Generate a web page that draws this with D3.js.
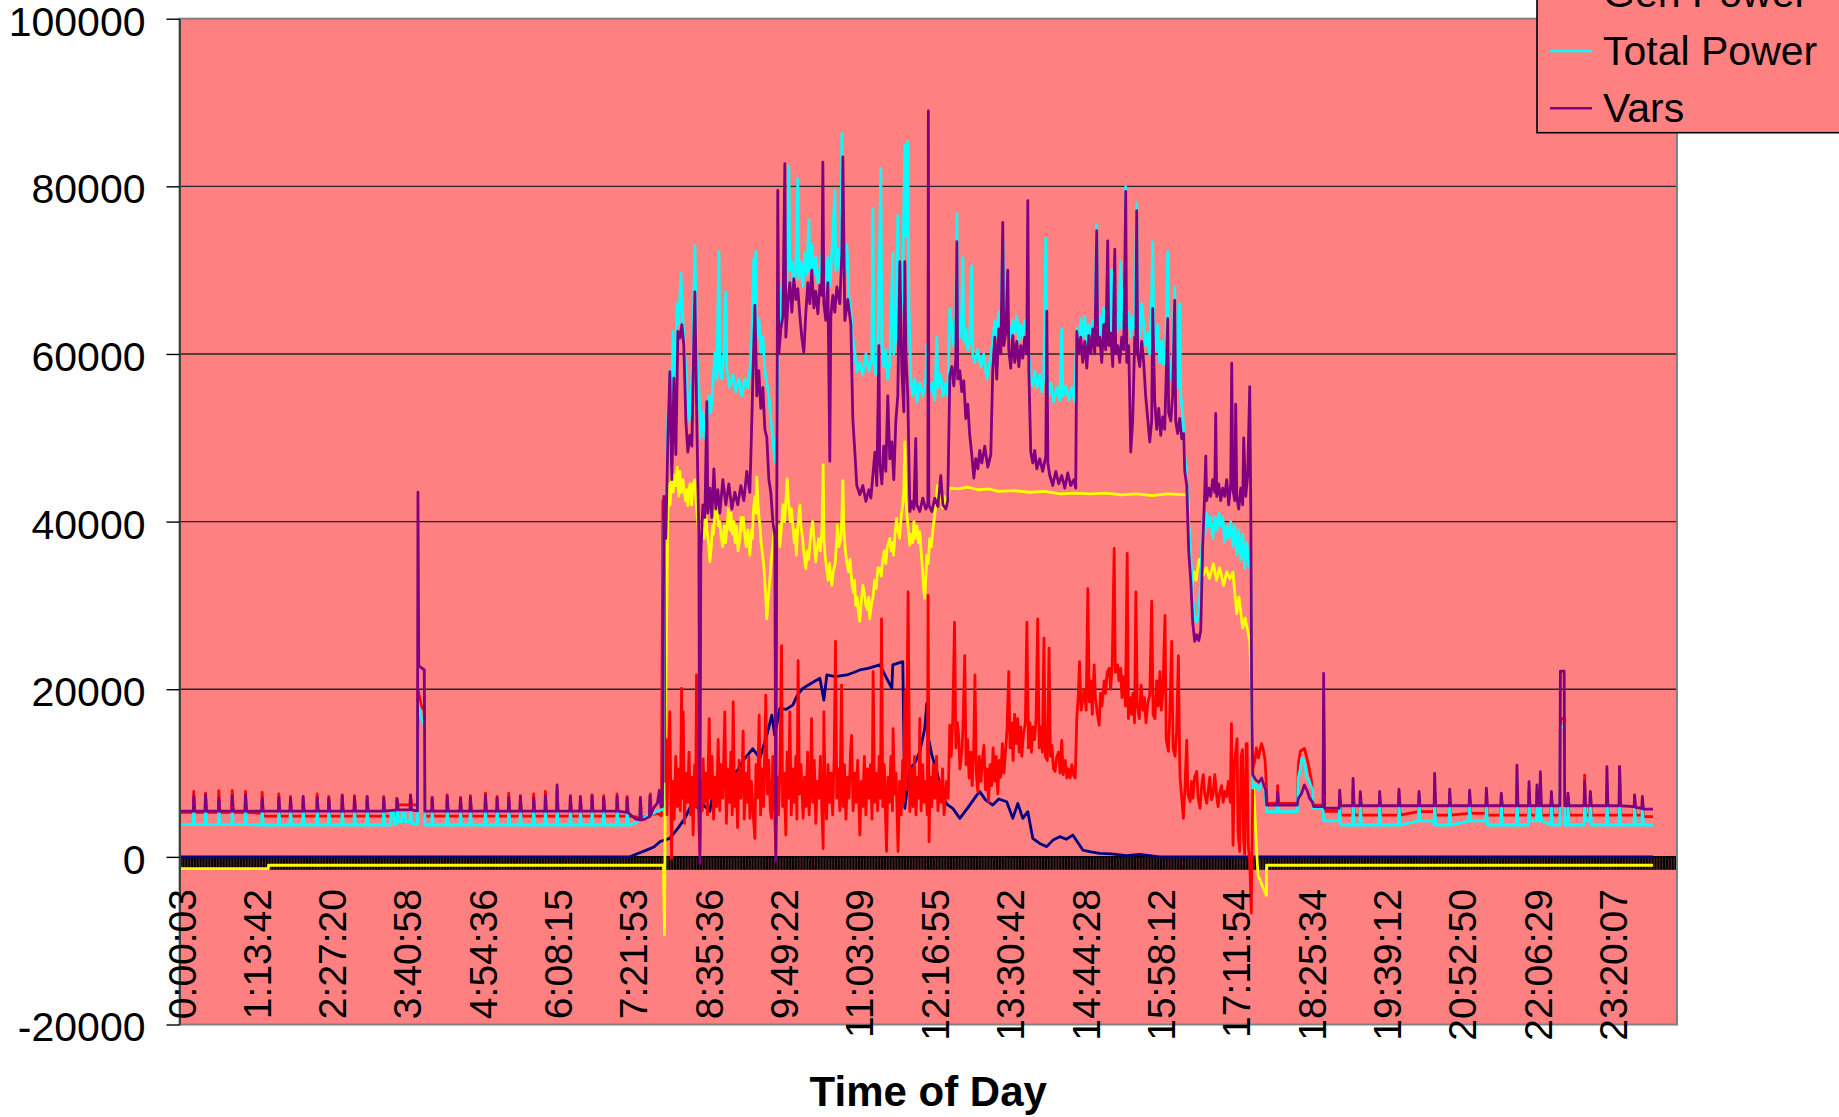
<!DOCTYPE html>
<html><head><meta charset="utf-8">
<script src="https://cdn.jsdelivr.net/npm/d3@7"></script>
<style>
html,body{margin:0;padding:0;background:#fff;}
svg text{font-family:"Liberation Sans",Arial,sans-serif;}
</style></head><body>
<svg id="chart" width="1839" height="1117"></svg>
<script>
// ---------------- DATA (time in minutes since midnight, value) ----------------
const timeLabels = ["0:00:03","1:13:42","2:27:20","3:40:58","4:54:36","6:08:15","7:21:53","8:35:36","9:49:22","11:03:09","12:16:55","13:30:42","14:44:28","15:58:12","17:11:54","18:25:34","19:39:12","20:52:50","22:06:29","23:20:07"];
const yTicks = [-20000,0,20000,40000,60000,80000,100000];
const seriesNames = ["Gen Power","Total Power","Vars"];

const pvPower = [[0,0],[439,0],[447,400],[455.4,810],[463,1200],[468.5,1810],[478.2,2200],[486,3400],[492.9,4590],[500.7,6600],[505,5900],[510,6300],[517.4,5430],[519.3,6980],[526,8200],[534,9760],[543.8,10200],[550,11500],[559.4,12900],[566.3,11750],[573.1,14530],[578,16900],[580.9,14500],[585.8,17700],[592,17600],[598.5,18100],[603,19300],[608.3,20100],[615,20600],[625,21300],[628.9,18700],[631.8,21700],[640,21500],[651.4,21700],[658,22000],[664.1,22300],[672,22500],[683.6,22900],[695.4,20100],[696.3,22900],[706.1,23300],[708.1,5800],[713,10560],[718,11200],[722.7,12550],[727.6,15330],[729.6,18300],[730.6,14530],[734.5,12150],[739.4,10170],[745.2,6980],[750,6200],[755,5790],[761.9,4590],[770,5900],[778.5,7370],[781.4,7780],[787,6800],[794.1,6180],[800,6900],[807.8,6580],[813.7,4590],[818.6,6380],[823.5,4590],[828.4,5390],[833.3,2200],[840,1600],[846.9,1220],[853,2000],[859.7,2410],[866,2100],[872.4,2600],[882.2,810],[890,600],[898.8,420],[910,350],[925.2,140],[937.9,300],[957.5,0],[1440,0]];

const loadPower = [[0,-1400],[85.5,-1400],[85.6,-1000],[472,-1000],[473,-9300],[474.3,20000],
[476.3,41000],[477.5,44500],[478.5,42000],[480.2,46300],[481.5,43500],[482.8,45500],[484.1,44300],[485.5,46500],[487,43000],[488,46000],[489.5,43500],[491,45000],[492,44000],[493.5,42500],[494.9,43800],[495.8,41900],[497,44000],[498,44500],[499.5,42000],[501,44500],[502.7,45000],[504,42000],[505.6,40000],[506.5,38500],[507.6,36400],[509,38500],[510.5,40000],[511.8,38000],[513,42000],[514.5,39000],[516,37500],[517.4,35200],[518.8,37000],[520,39500],[521,38500],[522.5,41500],[524,42500],[525.5,39500],[527,40000],[528.5,38000],[530,37000],[531.5,39500],[532.8,37500],[534,39200],[535.5,41500],[537,39000],[538,41000],[539.5,38500],[541,40000],[542,37500],[543.5,39500],[545,36500],[546.7,38000],[548,40500],[549,39000],[550,40500],[551.5,38500],[553,37000],[554.5,39000],[555.5,37500],[556.5,36000],[558,39000],[559,38000],[560,41500],[561.5,43000],[562.5,41000],[563.3,45300],[564.5,42000],[565.5,40500],[566.3,39600],[567.5,37500],[569,36000],[570.3,34500],[571.5,32000],[572.3,30500],[573.1,28400],[574.5,31000],[576,33000],[577.5,35500],[579,37400],[580.5,39500],[582,40000],[583.5,38000],[585,39500],[585.8,37000],[587.5,39500],[589,42000],[590.5,40000],[592,43000],[593,45100],[594.5,42000],[596,40000],[597.3,41500],[598.5,39600],[600,37500],[601,39000],[602,36000],[603.5,39500],[605.4,42000],[606.5,39500],[608,38000],[609.5,36000],[611.3,34400],[612.5,36500],[614,35500],[615.2,37200],[616.5,39000],[618,40000],[619.5,37500],[621,35200],[622.5,37000],[624,38000],[625.5,36500],[627,39000],[628.2,46800],[629,38000],[630,36000],[631.5,34500],[633,33000],[634.5,35000],[635.5,33500],[636.7,32400],[638,34000],[640,35000],[641,37000],[642,39600],[643.5,37000],[645.5,38000],[646.5,40500],[647.5,44900],[648.5,39000],[650,36400],[651.5,35000],[653,34000],[654.5,35500],[656.5,32400],[658,31500],[659,33000],[660,30000],[661.5,31000],[662.8,29000],[664,28100],[665.5,30500],[667,32400],[668.5,31500],[670,30000],[671.5,29500],[672.8,31000],[673.8,28400],[675.3,30000],[677,31000],[678.5,33000],[680,32000],[681.8,34500],[683.6,34400],[685,33500],[686.5,35500],[688,36500],[689.5,35000],[691,37000],[693.4,38000],[694.8,36500],[696,37500],[697,36000],[698.5,38500],[700,40400],[701.5,39000],[703,38000],[704.5,40500],[706,42000],[707.2,44000],[708.1,49500],[709,43000],[710,41000],[711.5,39000],[713,37200],[714.5,38500],[716,37500],[717,40000],[718.5,38000],[720,39500],[721.5,37500],[722.7,38800],[724,36500],[725.5,34000],[726.5,32000],[727.6,30800],[728.5,33000],[729.6,36000],[731,35000],[732.5,38000],[734,37000],[735.5,39000],[737,40400],[738.5,42000],[740,44300],[741.5,42500],[743,43500],[745,41600],[746.5,43000],[748,41800],[750,42500],[751,43500],[752.1,44000],
[760,43900],[770,44100],[780,43800],[790,43900],[800,43600],[815,43700],[830,43500],[845,43600],[860,43300],[875,43400],[890,43300],[905,43400],[920,43200],[935,43300],[950,43100],[965,43300],[984.8,43200],[987,36000],[989,32400],[991,34000],[993,33000],[996,35500],[1000,33600],[1003,34500],[1006,33200],[1010,35000],[1013,33000],[1016,34500],[1020,32400],[1023,34000],[1026,33200],[1029,34000],[1032.8,29000],[1035,31000],[1038.6,27300],[1041,28500],[1045.5,25700],[1047.1,20500],[1049,9000],[1052,1400],[1053.6,-2200],[1058,-3500],[1061.8,-4600],[1062,-1000],[1440,-1000]];

const genPower = [[0,5300],
[12,5300],[12.5,7800],[13.5,5300],[23.5,5300],[24,7600],[25,5300],[36.5,5300],[37,7900],[38,5300],[49.6,5300],[50.1,7900],[51.1,5300],[62.6,5300],[63.1,7800],[64.1,5300],
[78.9,5200],[79.4,7700],[80.4,4850],[95.2,4850],[95.7,7500],[96.7,4850],[106.6,4850],[107.1,7200],[108.1,4850],[119,4850],[119.5,7000],[120.5,4850],[132.7,4850],[133.2,7500],[134.2,4850],[144.1,4850],[144.6,7200],[145.6,4850],[157.2,4850],[157.7,7400],[158.7,4850],[169.2,4850],[169.7,7300],[170.7,4850],[181.6,4850],[182.1,7100],[183.1,4850],[197.8,4850],[198.3,7200],[199.3,4850],
[210.5,4850],[211,7000],[212,6200],[224,6200],[224.5,7300],[225.5,6200],[231.3,6200],[231.8,20000],[235,18000],[238,17500],[238.6,4850],
[245.2,4850],[245.7,7000],[246.7,4850],[259.9,4850],[260.4,7400],[261.4,4850],[272.9,4850],[273.4,7100],[274.4,4850],[282.6,4850],[283.1,7300],[284.1,4850],[297.3,4850],[297.8,7600],[298.8,4850],[308.7,4850],[309.2,7200],[310.2,4850],[320.1,4850],[320.6,7600],[321.6,4850],[331.5,4850],[332,7300],[333,4850],[344.5,4850],[345,7500],[346,4850],[356,4850],[356.5,7800],[357.5,4850],[367.4,4850],[367.9,7900],[368.9,4850],[380.4,4850],[380.9,7200],[381.9,4850],[390.2,4850],[390.7,7000],[391.7,4850],[401.6,4850],[402.1,7400],[403.1,4850],[413,4850],[413.5,7300],[414.5,4850],[426.1,4850],[426.6,7500],[427.6,4850],[435.9,4850],[436.4,7200],[437.4,4850],[448.9,4700],[449.4,7000],[450.4,4700],[458.7,4800],[459.2,7500],[460.2,5000],[466,5200],[470,4900],
[471.4,42500],[472.5,41000],[473.5,9000],[474.5,14000],[475.5,5000],[476.5,11000],[478.2,17300],[479.9,-200],[481,9000],[482.5,4500],[484,12000],[485.5,6000],[487,10500],[488.5,5500],[489.7,20100],[490.5,7000],[491.3,17300],[492.5,4000],[494,10000],[495.5,6500],[497,12500],[498.5,5000],[500,9500],[501,2600],[502.5,11000],[503.5,6000],[504.3,21700],[505.5,8000],[506.5,4500],[507.6,650],[508.8,9000],[510,5500],[510.8,11700],[512,6500],[513.5,10000],[515,5000],[516.7,16500],[518,7000],[519.5,12000],[521,4500],[522.5,9500],[524,6000],[525.5,14000],[527,5500],[528.5,11000],[530,7000],[532,17300],[533.5,4000],[535,10500],[536.5,6500],[538,12500],[539.2,5000],[540.2,18500],[541.5,6000],[543,10000],[544.5,3500],[546,11500],[547.5,7000],[549,9500],[549.9,15000],[551,4500],[552.5,10000],[554,6500],[555.5,12000],[556.5,4600],[558,9000],[559.5,5500],[561.4,2200],[562.5,11000],[564,7000],[565.6,16900],[567,5000],[568.5,10500],[570,6000],[572.1,19300],[573.5,7500],[575,11500],[576.5,5500],[577.7,4600],[579,12000],[580.5,6500],[581.9,650],[583,9500],[584.5,5000],[586,11000],[587.5,25200],[588.5,6000],[590,10000],[591.7,2600],[593,12500],[594.5,7000],[595.6,17300],[597,5000],[598.5,10500],[600,6500],[601.5,12000],[602.5,4500],[603.7,23400],[605,7500],[606.5,11000],[608.6,4600],[610,9500],[611.5,6000],[613,12500],[614.5,5000],[616,10000],[616.8,16500],[618,6500],[619.5,11500],[621,4000],[622.5,9000],[624,7000],[625.5,12000],[627,5500],[628.2,1000],[628.9,17300],[630,8000],[631.5,4500],[633,11000],[634.5,6500],[636,10000],[637.5,5000],[639,12000],[640.3,25700],[641.5,7000],[643,10500],[644.5,5500],[646.2,20500],[647.5,6000],[649,11000],[650.5,4500],[652,9500],[653.5,7000],[655,12500],[656,14500],[657.5,5500],[659,10000],[660.5,6500],[662,11500],[664.1,2600],[665.5,9000],[667,6000],[668.5,12000],[670,5000],[671.5,10500],[673,7000],[674.5,11000],[676,4500],[677.1,22100],[678.5,6500],[680,10000],[681.5,5500],[683,12000],[684.3,7000],[685.3,28400],[686.5,6000],[688,11000],[689.2,5000],[690.2,650],[691.5,9500],[693,6500],[694.5,12000],[696,5500],[696.6,15300],[698,7500],[699.5,10000],[701.5,650],[703,9000],[704.5,5000],[706,11500],[707,6500],[708.1,19700],[709.5,8000],[711.3,31600],[713,5400],[714.5,10500],[716,6000],[717.5,12000],[719,5000],[720.5,9500],[722,7000],[722.7,16500],[724,5500],[725.5,11000],[727,6500],[728.5,9000],[730,5000],[730.9,31200],[731.8,1800],[733,9500],[734.5,6000],[736,11000],[737.5,7000],[739.1,12000],[740.5,5500],[742,9000],[743.5,6500],[745,10500],[746.5,5000],[748.9,9000],[750.5,7000],[752.1,15700],
[753.5,12000],[755,16500],[756.7,28000],[758,13000],[759.5,16000],[760.7,14500],[762,10500],[763.9,12600],[765,15500],[766.7,24000],[768,11000],[769.5,14000],[771,9400],[772.5,12500],[774,8500],[775.5,13000],[776.7,21700],[778,10000],[779.5,7800],[781,12000],[782.5,9000],[784,11500],[785.5,13300],[787,8000],[788.5,10500],[790,6600],[791.5,11000],[793,8500],[794.5,13000],[796,9000],[797.5,12000],[799,7500],[800.5,11500],[802,9500],[803.5,13500],[805,10000],[806.5,12500],[808,15000],[809.8,22100],[811,13000],[812.5,16000],[814,11500],[815.5,17000],[817,13500],[818.5,16500],[820,12500],[821.5,15500],[822.5,12000],[824,14500],[826,16000],[827.5,28000],[829,13000],[830.5,16000],[832,12500],[833.5,15500],[835,14000],[836.5,16500],[838.1,28400],[839.5,13000],[841,15500],[842.6,12500],[844.2,26100],[845.5,12000],[847.5,11500],[849.2,24900],[850.5,12000],[852,13300],[853.5,10500],[855.1,10200],[856.5,11800],[858.4,12500],[860,10000],[861.6,13900],[863,9800],[865,11500],[866.7,9400],[868,10500],[869.8,9400],[871.5,11000],[873,9800],[874.8,9400],[876.3,16500],[877.7,19000],[879,23300],[880.5,17500],[882.2,18900],[883.5,20000],[885.5,17500],[887.1,32000],[888.5,18500],[890,21000],[891.5,17000],[893.3,22900],[894.5,19000],[896,17500],[898.2,15700],[899.5,19500],[901,18000],[903.1,21000],[904.5,19500],[906,22000],[908,22500],[909.5,20000],[911,23000],[912.9,36800],[914,22000],[916.2,22900],[917.5,21000],[919.3,22500],[920.5,19000],[922,21500],[924,18000],[925.6,36200],[926.8,16500],[928.5,19000],[930,17000],[931.2,19500],[932.8,16000],[934.1,31600],[935.5,18000],[937.5,16500],[939.3,20500],[941,17500],[942.5,19000],[944,16000],[946,18500],[947.7,19300],[949.6,30500],[951,17000],[952.8,16500],[954.5,21000],[956,18000],[957.7,22100],[959,17500],[960.5,19500],[962.6,28800],[963.8,14000],[965.9,12600],[967,16000],[969.2,25700],[970.5,13000],[972.4,12000],[974,15000],[975.7,24000],[977,11000],[977.4,9400],[979,7000],[980.6,4600],[982,8000],[983.9,13900],[985,7500],[987.2,6600],[988.5,9000],[990,7000],[991.5,9500],[993.6,10200],[995,7000],[996.9,5800],[998.5,8500],[1000.1,9800],[1001.5,7500],[1003.4,6400],[1005,8000],[1006.4,9500],[1008,6800],[1009.7,7500],[1011.3,9800],[1013,7500],[1014.5,6000],[1016.2,7700],[1018,8500],[1019.5,6500],[1021,7800],[1022.8,7200],[1024.5,9000],[1026.5,6500],[1027.6,15900],[1029.2,1400],[1030.5,11000],[1033.1,14100],[1034,3000],[1035.7,650],[1037,12000],[1038.4,12800],[1039.5,2000],[1040.6,300],[1042,13500],[1042.9,13500],[1044,1500],[1045.5,-500],[1047,-6700],[1048.7,10600],[1050.5,11500],[1052,13000],[1054,11800],[1055.3,12600],[1057,13500],[1058.6,12900],[1060.5,11500],[1061.2,10000],[1062.5,6400],
[1072.3,6380],[1072.8,8500],[1073.8,6380],[1092,6380],[1093,11000],[1095,12600],[1099,12940],[1101,12000],[1103,10950],[1106,9000],[1107.5,6180],[1117.3,6180],[1117.8,17700],[1118.8,5430],[1133,5430],[1133.5,7500],[1134.5,4990],
[1146.1,4990],[1146.6,8000],[1147.6,4990],[1153.2,4990],[1153.7,7500],[1154.7,4990],[1172.1,4990],[1172.6,7400],[1173.6,4990],[1191,4990],[1191.5,7500],[1192.5,4990],[1210.6,5390],[1211.1,7400],[1212.1,5390],[1225.9,5390],[1226.4,8000],[1227.4,4990],[1240.6,4990],[1241.1,7500],[1242.1,4990],[1260.1,5200],[1260.6,7600],[1261.6,5200],[1276.5,5200],[1277,7700],[1278,4990],[1291.1,4990],[1291.6,7300],[1292.6,4990],[1306.4,4990],[1306.9,8500],[1307.9,4990],[1318.2,4990],[1318.7,8000],[1319.7,4990],[1326,4990],[1326.5,7800],[1327.5,4990],[1329.3,4990],[1329.8,8200],[1330.8,4990],[1340.1,4990],[1340.6,7300],[1341.6,4990],[1348.9,4990],[1349.4,16500],[1353.1,16500],[1353.6,4990],[1356.3,4990],[1356.8,7200],[1357.8,4990],[1372.6,4990],[1373.1,9760],[1374.1,4990],[1378.2,4990],[1378.7,7600],[1379.7,4990],[1394.4,4990],[1394.9,8500],[1395.9,4990],[1406.8,4990],[1407.3,10760],[1408.3,4990],[1421.5,4990],[1422,7100],[1423,4990],[1429.1,4990],[1429.6,6900],[1430.6,4800],[1440,4800]];

const totalPower = [[0,3850],
[12,3850],[12.5,6000],[13.5,3850],[23.5,3850],[24,6600],[25,3850],[36.5,3850],[37,6200],[38,3850],[49.6,3850],[50.1,5800],[51.1,3850],[62.6,3850],[63.1,6000],[64.1,3850],
[78.9,3800],[79.4,6300],[80.4,3800],[95.2,3800],[95.7,6100],[96.7,3800],[106.6,3800],[107.1,6500],[108.1,3800],[119,3800],[119.5,6000],[120.5,3800],[132.7,3800],[133.2,6600],[134.2,3800],[144.1,3800],[144.6,6200],[145.6,3800],[157.2,3800],[157.7,6000],[158.7,3800],[169.2,3800],[169.7,6400],[170.7,3800],[181.6,3800],[182.1,6300],[183.1,3800],[197.8,3800],[198.3,6500],[199.3,3800],
[205,3800],[205.5,5400],[208,5400],[208.5,3900],[211,3900],[211.5,6200],[212.5,4200],[216,4200],[216.5,5400],[219,5400],[219.5,4200],[224,4200],[224.5,6000],[225.5,4000],[231.3,3900],[231.8,18500],[235,16500],[238,15800],[238.6,3800],
[245.2,3800],[245.7,5900],[246.7,3800],[259.9,3800],[260.4,6200],[261.4,3800],[272.9,3800],[273.4,6000],[274.4,3800],[282.6,3800],[283.1,6300],[284.1,3800],[297.3,3800],[297.8,6100],[298.8,3800],[308.7,3800],[309.2,6400],[310.2,3800],[320.1,3800],[320.6,6200],[321.6,3800],[331.5,3800],[332,6000],[333,3800],[344.5,3800],[345,6300],[346,3800],[356,3800],[356.5,6800],[357.5,3800],[367.4,3800],[367.9,6500],[368.9,3800],[380.4,3800],[380.9,6200],[381.9,3800],[390.2,3800],[390.7,6000],[391.7,3800],[401.6,3800],[402.1,6300],[403.1,3800],[413,3800],[413.5,6100],[414.5,3800],[426.1,3800],[426.6,6400],[427.6,3800],[435.9,3800],[436.4,6200],[437.4,3800],
[442,3900],[448.9,4400],[449.4,6000],[450.4,4500],[455,4800],[458.7,5000],[459.2,6300],[460.2,5000],[465,5400],[470,5600],[471.4,5600],
[472.4,40000],[474.3,42000],[476.3,52000],[478.2,58000],[480.2,50000],[481.2,62700],[483.1,55000],[485.1,66000],[487,63500],[489,69600],[491,64000],[492.9,60000],[494.9,56200],[496.8,52000],[498.8,54500],[500.7,60000],[502.7,72900],[504.6,60000],[506.6,56000],[508.5,50000],[510.5,53100],[512.5,49900],[514.4,52000],[516.4,55000],[518.3,53000],[520.3,56200],[522.3,60200],[524.2,57000],[526.2,72200],[527.1,58000],[529.1,57000],[531.1,60000],[533,67400],[534,58000],[536.9,56000],[539.9,57500],[542.8,55500],[545.7,57000],[548.7,55000],[551.6,57000],[554.5,56000],[556.5,58000],[558.4,62000],[560.4,71400],[561.4,64000],[562.3,72200],[563.3,62000],[565.3,64200],[567.2,60200],[569.2,62000],[571.2,58000],[573.1,56500],[575.1,55000],[577,52000],[579,50000],[580.9,47000],[582.9,52000],[584.8,62000],[586.8,66000],[588.8,70000],[590.7,72000],[592.7,68000],[594.6,82400],[595.6,70000],[597.6,71000],[599.5,67500],[601.5,70500],[603.4,80900],[604.4,69000],[606.4,71000],[608.3,68000],[610.3,72000],[612.2,69500],[614.2,76000],[615.2,70000],[617.1,73000],[619.1,69500],[621,71500],[623,68500],[625,70000],[626.9,72000],[628.9,69500],[630.8,67000],[632.8,71500],[634.7,68000],[636.7,72000],[639.6,79500],[640.6,70000],[642.6,72500],[645.5,69000],[646.5,86300],[647.5,72000],[649.4,70000],[651.4,73000],[653.3,67000],[655.3,65000],[657.2,62000],[659.2,60200],[661.1,57900],[664.1,59000],[667,57500],[670,60000],[672.9,58000],[675.9,59500],[676.8,77300],[677.8,59000],[679.7,57500],[681.7,60000],[684.6,82100],[685.6,61000],[687.5,58500],[689.5,60500],[691.4,57000],[693.4,59000],[696.3,72000],[697.3,60000],[699.3,62000],[701.2,76500],[702.2,61000],[704.2,64000],[706.1,70000],[708.1,84900],[709.1,74000],[711,85300],[712,66000],[714,57000],[715.9,55000],[717.9,57000],[719.8,54300],[722.7,56500],[725.7,55000],[728.6,57000],[729.6,61000],[731.6,55500],[734.5,56500],[737.4,54500],[739.4,62000],[740.4,56000],[743.3,57500],[745.3,55000],[748.2,56500],[750.1,55000],[752.1,65400],[754.1,63000],[756,61000],[758,64500],[759,76700],[759.9,63000],[761.9,62000],[763.8,65000],[764.8,71500],[765.8,61500],[767.7,63000],[769.7,60500],[771.6,61500],[773.6,70500],[774.6,60000],[776.5,59000],[779.5,60500],[782.4,58500],[785.3,60000],[788.3,57000],[791.2,59000],[794.1,61500],[796.1,64000],[798,62000],[800,65000],[802,63000],[803.9,74000],[805.9,64000],[807.8,66000],[809.8,63500],[811.7,62000],[813.7,64000],[815.6,62500],[817.6,64500],[819.6,61500],[821.5,63500],[823.5,62000],[825.4,64000],[827.4,62500],[829.4,60000],[831.3,57000],[833.3,56200],[835.2,58000],[837.2,56000],[840.1,57500],[842.1,55500],[844,57000],[846,73800],[847,57000],[848.9,55000],[850.9,56500],[853.8,54300],[856.8,56000],[859.7,54500],[861.6,63000],[862.6,55000],[865.5,56200],[868.5,54500],[871.4,56000],[874.3,54300],[876.3,63000],[878.2,61000],[880.2,64200],[882.1,62000],[884.1,64500],[886.1,61000],[888,63500],[890,61500],[891.9,64000],[893.9,62000],[895.8,75400],[896.8,63000],[898.8,64500],[900.7,61500],[902.7,65500],[904.6,62000],[906.6,64000],[908.6,61000],[910.5,70000],[911.5,63000],[913.5,65000],[915.4,62500],[917.4,64000],[919.3,71000],[920.3,63000],[922.2,65000],[924.2,80000],[925.2,63000],[927.1,65000],[929.1,62000],[931,64500],[933,63000],[934.9,78000],[935.9,64000],[937.9,62000],[939.8,66000],[941.8,63500],[943.7,61000],[945.7,62500],[947.7,60000],[949.6,67000],[950.6,73400],[951.6,62000],[953.5,60500],[955.5,63400],[957.5,59000],[959.4,61500],[961.4,58700],[963.3,60500],[965.3,72200],[966.2,60000],[968.2,57000],[970.1,59000],[972.1,68000],[973.1,57500],[975,56000],[977,66000],[978,55000],[979.9,53000],[981.9,48000],[983.9,45000],[985.8,40000],[987.8,36000],[989.7,31000],[991.7,28500],[993.6,28000],[995.6,29000],[997.6,33000],[999.5,40000],[1001.5,38500],[1003.4,41000],[1005.4,39500],[1007.3,40500],[1009.3,38000],[1011.3,40500],[1013.2,39000],[1015.2,41000],[1017.1,39500],[1019.1,40500],[1021,37500],[1023,39500],[1024.9,38000],[1026.9,40000],[1028.9,37000],[1030.8,39500],[1032.8,36000],[1034.7,39000],[1036.7,35500],[1038.6,38500],[1040.6,34400],[1042.5,37500],[1044.5,35000],[1046.5,34000],[1047.4,20000],[1048.4,8200],[1051.3,8600],[1054.3,8000],[1057.2,8800],[1060.2,8400],[1062.1,5390],
[1072.3,5390],[1072.8,7000],[1073.8,5390],[1092,5390],[1093,9370],[1095,10500],[1096.5,11750],[1099,11500],[1101,9400],[1103,9370],[1105,8570],[1107,8000],[1107.5,5790],[1117,5790],[1118,4300],[1133,4300],[1133.5,6780],[1134.5,3800],
[1146.1,3800],[1146.6,7000],[1147.6,3800],[1153.2,3800],[1153.7,7200],[1154.7,3800],[1172.1,3800],[1172.6,6700],[1173.6,3800],[1191,3800],[1191.5,6700],[1192.5,3800],[1210.6,4300],[1211.1,7200],[1212.1,4300],[1225,4300],[1225.9,3800],[1226.4,7200],[1227.4,3800],[1240.6,3800],[1241.1,7000],[1242.1,3800],[1260.1,4300],[1260.6,6800],[1261.6,4300],[1276.5,4300],[1277,7000],[1278,3800],[1291.1,3800],[1291.6,6700],[1292.6,3800],[1306.4,3800],[1306.9,9000],[1307.9,3800],[1318.2,3800],[1318.7,7200],[1319.7,4300],[1326,4300],[1326.5,7200],[1327.5,4300],[1329.3,4300],[1329.8,6800],[1330.8,4300],[1340.1,3800],[1340.6,6300],[1341.6,3800],[1348.9,3800],[1349.4,15530],[1353.1,15530],[1353.6,3800],[1356.3,3800],[1356.8,6500],[1357.8,3800],[1372.6,3800],[1373.1,8000],[1374.1,4300],[1378.2,4300],[1378.7,6800],[1379.7,3800],[1394.4,3800],[1394.9,8200],[1395.9,3800],[1406.8,3800],[1407.3,8500],[1408.3,3800],[1421.5,3800],[1422,6500],[1423,3800],[1429.1,3800],[1429.6,6300],[1430.6,3800],[1440,3800]];

const vars = [[0,5450],
[12,5450],[12.5,7200],[13.5,5450],[23.5,5450],[24,7400],[25,5450],[36.5,5450],[37,7000],[38,5450],[49.6,5450],[50.1,7300],[51.1,5450],[62.6,5450],[63.1,7400],[64.1,5450],[78.9,5450],[79.4,7000],[80.4,5450],[95.2,5450],[95.7,7100],[96.7,5450],[106.6,5450],[107.1,7000],[108.1,5450],[119,5450],[119.5,7200],[120.5,5450],[132.7,5450],[133.2,7100],[134.2,5450],[144.1,5450],[144.6,7000],[145.6,5450],[157.2,5450],[157.7,7300],[158.7,5450],[169.2,5450],[169.7,7100],[170.7,5450],[181.6,5450],[182.1,7200],[183.1,5450],[197.8,5450],[198.3,7000],[199.3,5450],[211,5600],[211.5,6900],[212.5,5600],[224,5600],[224.5,7400],[225.5,5600],
[231.3,5500],[231.8,43500],[232.6,22800],[238,22300],[238.6,5450],
[245.2,5450],[245.7,7100],[246.7,5450],[259.9,5450],[260.4,7200],[261.4,5450],[272.9,5450],[273.4,7000],[274.4,5450],[282.6,5450],[283.1,7100],[284.1,5450],[297.3,5450],[297.8,7300],[298.8,5450],[308.7,5450],[309.2,7000],[310.2,5450],[320.1,5450],[320.6,7100],[321.6,5450],[331.5,5450],[332,7200],[333,5450],[344.5,5450],[345,7000],[346,5450],[356,5450],[356.5,7300],[357.5,5450],[367.4,5450],[367.9,8600],[368.9,5450],[380.4,5450],[380.9,7300],[381.9,5450],[390.2,5450],[390.7,7200],[391.7,5450],[401.6,5450],[402.1,7300],[403.1,5450],[413,5450],[413.5,7100],[414.5,5450],[426.1,5450],[426.6,7200],[427.6,5450],[435.9,5300],[436.4,7000],[437.4,5300],
[440,5000],[445,4500],[448.9,4400],[449.4,7100],[450.4,4400],[454,4500],[458.2,4800],[458.7,7300],[459.7,5000],[462,5800],[466,6400],[468,7970],[469.5,6000],[471,6000],
[472.4,43000],[474.3,38000],[476.3,50000],[478.2,57900],[480.2,45000],[482.2,57100],[484.1,48000],[486.1,62700],[488,61900],[490,63500],[491.9,61000],[493.9,52000],[495.8,48300],[497.8,50300],[499.8,49000],[501.7,62000],[502.7,67400],[504.6,52000],[506.6,38000],[507.6,-800],[508.5,36000],[510.5,42000],[512.5,40500],[514.4,54300],[515.4,41000],[517.4,44000],[519.3,40500],[521.3,46300],[523.2,41500],[525.2,43800],[527.1,41000],[530.1,45000],[533,42000],[535.9,44500],[538.9,41500],[541.8,43500],[544.7,42000],[547.7,44300],[550.6,42500],[553.5,46000],[556.5,43500],[558.4,52000],[559.4,57000],[561.4,65800],[563.3,55000],[565.3,58000],[567.2,53500],[569.2,56000],[571.2,51000],[573.1,50000],[575.1,45000],[577,43500],[579,40000],[580.9,38300],[581.9,-500],[582.9,45000],[583.8,79500],[584.8,60000],[586.8,63000],[588.8,64500],[590.7,82700],[591.7,62000],[593.6,66000],[595.6,68500],[597.6,65000],[599.5,69000],[601.5,66500],[603.4,67800],[605.4,64500],[607.3,62000],[609.3,60200],[611.3,65000],[613.2,68500],[615.2,66000],[617.1,70000],[619.1,65500],[621,67500],[623,64800],[625,68200],[626.9,67000],[627.9,82900],[628.9,66000],[630.8,64000],[632.8,68500],[634.7,47200],[635.7,64500],[637.7,67000],[639.6,65000],[641.6,68000],[644.5,66000],[646.5,72000],[647.5,83500],[649.4,64000],[652.3,66500],[655.3,63500],[657.2,52300],[659.2,48300],[661.1,44300],[664.1,43200],[667,44300],[670,42400],[672.9,43800],[674.9,42800],[676.8,45500],[678.8,48300],[680.7,44300],[682.7,61000],[683.6,47000],[685.6,44500],[687.5,49000],[689.5,46000],[691.4,55000],[693.4,47500],[695.4,49500],[697.3,45000],[699.3,52000],[701.2,55000],[703.2,71000],[705.2,58000],[707.1,53100],[708.1,71000],[709.1,60000],[711,55000],[713,41200],[714.9,42400],[716.9,41500],[718.8,49900],[719.8,42000],[722.7,41200],[725.7,42800],[728.6,41500],[730.6,42000],[731.1,89000],[731.6,42000],[734.5,41200],[737.4,42800],[740.4,41800],[743.3,45500],[745.3,42000],[748.2,41500],[750.1,42500],[752.1,57400],[754.1,58500],[756,56200],[758,59500],[759,73400],[759.9,57000],[761.9,58000],[763.8,55500],[765.8,56800],[767.7,52300],[769.7,54000],[771.6,50300],[773.6,48000],[775.6,45200],[777.5,47500],[779.5,46300],[781.4,48500],[783.4,47000],[786.3,49000],[789.2,46500],[792.2,48000],[794.1,58000],[796.1,62000],[798,57000],[800,63000],[802,60000],[803.9,75700],[804.9,61000],[806.9,62500],[808.8,70000],[809.8,60500],[811.7,58300],[813.7,62200],[815.6,59000],[817.6,61500],[819.6,58500],[821.5,61000],[823.5,59500],[825.4,62000],[827.4,60000],[828.4,78300],[829.4,58000],[831.3,48300],[833.3,47000],[835.2,48500],[837.2,46300],[840.1,47500],[843,46000],[846,47800],[847,65100],[848,47000],[849.9,45500],[852.8,44300],[855.8,46000],[858.7,44500],[861.6,45500],[864.6,44000],[867.5,45800],[870.4,44300],[873.4,45000],[875.3,44000],[876.3,62700],[878.2,60000],[880.2,62000],[882.1,59000],[884.1,61500],[886.1,58300],[888,62200],[890,60000],[891.9,63000],[893.9,60000],[895.8,74700],[896.8,61000],[898.8,62000],[900.7,59000],[902.7,63500],[904.6,60500],[906.6,73500],[907.6,61000],[909.5,62500],[911.5,58500],[913.5,72500],[914.4,60000],[916.4,61000],[918.3,59000],[920.3,62000],[922.2,60500],[924.2,79400],[925.2,59000],[927.1,61000],[929.1,48300],[931,52000],[933,62000],[934,60000],[934.9,77100],[935.9,60000],[937.9,58500],[939.8,61500],[941.8,59000],[943.7,55000],[945.7,52300],[947.7,49500],[949.6,52000],[950.6,65400],[952.6,54300],[954.5,51000],[956.5,53500],[958.4,50300],[960.4,52500],[962.3,51000],[965.3,64200],[966.2,53000],[968.2,52000],[970.1,55000],[972.1,66400],[973.1,52000],[975,50500],[977,52300],[979,49900],[980.9,50500],[981.9,46000],[983.9,44300],[985.8,36400],[987.8,33000],[989.7,28000],[991.7,25700],[993.6,26500],[995.6,25800],[997.6,27000],[999.5,37200],[1001.5,43600],[1002.5,47800],[1003.4,42500],[1005.4,44000],[1007.3,43000],[1009.3,45000],[1011.3,43500],[1012.2,52900],[1013.2,43000],[1015.2,44500],[1017.1,42500],[1019.1,44000],[1021,43000],[1023,45000],[1024.9,42000],[1026.9,44500],[1027.9,58900],[1028.9,44000],[1030.8,42500],[1031.8,54000],[1032.8,43000],[1034.7,41500],[1036.7,44000],[1038.6,42000],[1039.6,50000],[1041.6,43000],[1043.5,45500],[1045.5,56100],[1046.5,42000],[1047.4,19700],[1048.4,9800],[1051.3,9200],[1054.3,8900],[1057.2,9400],[1059.2,8600],[1061.1,8000],[1062.1,6180],
[1072.3,6180],[1072.8,7700],[1073.8,6180],[1092,6180],[1093,6980],[1096,7500],[1099,8570],[1102,7800],[1104,7000],[1107,6500],[1108,5990],[1117.3,5990],[1117.8,21900],[1118.8,5800],[1133,5800],[1133.5,7970],[1134.5,6100],
[1146.1,6100],[1146.6,9370],[1147.6,6100],[1153.2,6100],[1153.7,7780],[1154.7,6100],[1172.1,6100],[1172.6,7800],[1173.6,6100],[1191,6100],[1191.5,8090],[1192.5,6100],[1210.6,6100],[1211.1,7800],[1212.1,6100],[1225.9,6100],[1226.4,9960],[1227.4,6100],[1240.6,6100],[1241.1,8090],[1242.1,6100],[1260.1,6100],[1260.6,7970],[1261.6,6100],[1276.5,6100],[1277,8200],[1278,6100],[1291.1,6100],[1291.6,7600],[1292.6,6100],[1306.4,6100],[1306.9,10950],[1307.9,6100],[1318.2,6100],[1318.7,8970],[1319.7,6100],[1326,6100],[1326.5,8600],[1327.5,6100],[1329.3,6100],[1329.8,10160],[1330.8,6100],[1340.1,6100],[1340.6,7800],[1341.6,6100],[1348.9,6100],[1349.4,22170],[1353.1,22170],[1353.6,6100],[1356.3,6100],[1356.8,7600],[1357.8,6100],[1372.6,6100],[1373.1,9000],[1374.1,6100],[1378.2,6100],[1378.7,7800],[1379.7,6100],[1394.4,6100],[1394.9,10760],[1395.9,6100],[1406.8,6100],[1407.3,10760],[1408.3,6100],[1421.5,6000],[1422,7400],[1423,5900],[1429.1,5800],[1429.6,7200],[1430.6,5700],[1440,5700]];

// ---------------- LAYOUT ----------------
const plot = {left:179.5, right:1677, top:18.7, bottom:1024.5};
const svg = d3.select("#chart");
const x = d3.scaleLinear().domain([0,1440]).range([181,1653]);
const y = d3.scaleLinear().domain([-20000,100000]).range([plot.bottom, plot.top]);
const toMin = s => { const p = s.split(":").map(Number); return p[0]*60 + p[1] + p[2]/60; };

svg.append("rect").attr("x",0).attr("y",0).attr("width",1839).attr("height",1117).attr("fill","#ffffff");
svg.append("rect").attr("x",plot.left).attr("y",plot.top)
  .attr("width",plot.right-plot.left).attr("height",plot.bottom-plot.top)
  .attr("fill","#FF8080");

// gridlines
svg.append("g").selectAll("line").data(yTicks.filter(v=>v>0 && v<100000)).join("line")
  .attr("x1",plot.left).attr("x2",plot.right)
  .attr("y1",d=>y(d)).attr("y2",d=>y(d))
  .attr("stroke","#262626").attr("stroke-width",1.4);

// dense category tick band at y=0
const band = svg.append("g").attr("transform",`translate(0,${y(0)})`)
  .call(d3.axisBottom(x).tickValues(d3.range(-1,1463.5,1.5)).tickSize(13).tickSizeOuter(0).tickFormat(""));
band.select(".domain").remove();
band.selectAll("line").attr("stroke","#000").attr("stroke-width",1.5);
svg.append("line").attr("x1",plot.left).attr("x2",plot.right).attr("y1",y(0)).attr("y2",y(0))
  .attr("stroke","#000").attr("stroke-width",1.5);

// series
svg.append("clipPath").attr("id","pc").append("rect")
  .attr("x",plot.left).attr("y",plot.top).attr("width",plot.right-plot.left).attr("height",plot.bottom-plot.top);
const line = d3.line().x(d=>x(d[0])).y(d=>y(d[1]));
const series = [
  {data:pvPower, color:"#000080"},
  {data:loadPower, color:"#FFFF00"},
  {data:genPower, color:"#FF0000"},
  {data:totalPower, color:"#00FFFF"},
  {data:vars, color:"#800080"}
];
const sg = svg.append("g").attr("clip-path","url(#pc)");
series.forEach(s=>{
  sg.append("path").attr("d",line(s.data)).attr("fill","none")
    .attr("stroke",s.color).attr("stroke-width",2.8).attr("stroke-linejoin","round");
});

// plot border
svg.append("rect").attr("x",plot.left).attr("y",plot.top)
  .attr("width",plot.right-plot.left).attr("height",plot.bottom-plot.top)
  .attr("fill","none").attr("stroke","#808080").attr("stroke-width",2);

// y axis
const ya = svg.append("g").attr("transform",`translate(${plot.left},0)`)
  .call(d3.axisLeft(y).tickValues(yTicks).tickSize(13).tickSizeOuter(0).tickPadding(21).tickFormat(d=>String(d)));
ya.select(".domain").attr("stroke","#404040").attr("stroke-width",2);
ya.selectAll("line").attr("stroke","#000").attr("stroke-width",1.4);
ya.selectAll("text").attr("font-size",41).attr("dy","0.4em").attr("fill","#000").attr("font-family","Liberation Sans, Arial, sans-serif");

// x tick labels (rotated)
const xl = svg.append("g").attr("transform","translate(0,889)")
  .call(d3.axisBottom(x).tickValues(timeLabels.map(toMin)).tickSize(0).tickFormat((d,i)=>timeLabels[i]));
xl.select(".domain").remove();
xl.selectAll("text").attr("transform","rotate(-90)").attr("text-anchor","end")
  .attr("x",0).attr("y",0).attr("dy","0.36em").attr("font-size",39).attr("fill","#000")
  .attr("font-family","Liberation Sans, Arial, sans-serif");

// axis title
svg.append("text").attr("x",(plot.left+plot.right)/2).attr("y",1106).attr("text-anchor","middle")
  .attr("font-size",42).attr("font-weight","bold").text("Time of Day");

// legend (partly outside the canvas, as in the original)
const lg = svg.append("g");
lg.append("rect").attr("x",1537).attr("y",-120).attr("width",330).attr("height",252.7)
  .attr("fill","#FF8080").attr("stroke","#000").attr("stroke-width",1.6);
const legColors = ["#FF0000","#00FFFF","#800080"];
seriesNames.forEach((n,i)=>{
  const cy = -6.3 + i*57.3;
  lg.append("line").attr("x1",1550).attr("x2",1592).attr("y1",cy).attr("y2",cy)
    .attr("stroke",legColors[i]).attr("stroke-width",2.6);
  lg.append("text").attr("x",1603).attr("y",cy+13.5).attr("font-size",41).attr("fill","#000").text(n);
});
</script>
</body></html>
